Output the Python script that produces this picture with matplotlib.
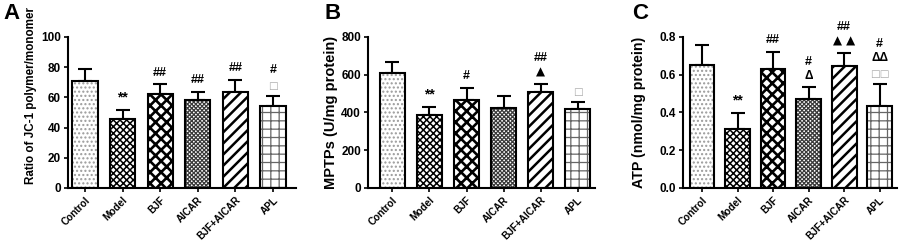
import matplotlib
matplotlib.use("Agg")
import matplotlib.pyplot as plt
import numpy as np

plt.rcParams['font.family'] = ['Liberation Sans', 'DejaVu Sans']
plt.rcParams['font.weight'] = 'bold'

groups = ["Control", "Model", "BJF", "AICAR", "BJF+AICAR", "APL"]

jc1_mean = [71, 45.5, 62, 58, 63.5, 54.5]
jc1_err = [7.5, 6.2, 6.7, 5.8, 8.3, 6.5]
jc1_marks = [[], ["**"], ["##"], ["##"], ["##"], ["\u25a1", "#"]]

mptp_mean = [611, 387, 466, 425, 509, 416]
mptp_err = [58, 42, 65, 61, 42, 38]
mptp_marks = [[], ["**"], ["#"], [], ["\u25b2", "##"], ["\u25a1"]]

atp_mean = [0.654, 0.312, 0.632, 0.474, 0.649, 0.437]
atp_err = [0.101, 0.087, 0.091, 0.060, 0.068, 0.114]
atp_marks = [[], ["**"], ["##"], ["\u0394", "#"], ["\u25b2 \u25b2", "##"], ["\u25a1\u25a1", "\u0394\u0394", "#"]]

# hatch styles per group: (hatch, hatchcolor, hatch linewidth)
styles = [("....", "#9a9a9a", 1.0),
          ("xxxxx", "black", 1.1),
          ("xxx", "black", 1.9),
          ("xxxxxxxx", "#3a3a3a", 0.9),
          ("///", "black", 1.8),
          ("++", "#666666", 0.9)]

W, H = 906, 242
fig = plt.figure(figsize=(W / 100, H / 100), dpi=100)

panels = [
    dict(letter="A", mean=jc1_mean, err=jc1_err, marks=jc1_marks,
         ylabel="Ratio of JC-1 polymer/monomer", ylim=(0, 100), yticks=[0, 20, 40, 60, 80, 100],
         fmt="{:.0f}", px=(68, 296), xlim=(-0.45, 5.61), width=0.67, lx=3,
         ylfs=8.4, ylx=-0.135, yly=0.615),
    dict(letter="B", mean=mptp_mean, err=mptp_err, marks=mptp_marks,
         ylabel="MPTPs (U/mg protein)", ylim=(0, 800), yticks=[0, 200, 400, 600, 800],
         fmt="{:.0f}", px=(368, 595), xlim=(-0.66, 5.47), width=0.68, lx=324,
         ylfs=10.5, ylx=-0.13, yly=0.5),
    dict(letter="C", mean=atp_mean, err=atp_err, marks=atp_marks,
         ylabel="ATP (nmol/mg protein)", ylim=(0, 0.8), yticks=[0, 0.2, 0.4, 0.6, 0.8],
         fmt="{:.1f}", px=(683, 897), xlim=(-0.535, 5.49), width=0.70, lx=632,
         ylfs=10.2, ylx=-0.175, yly=0.5),
]

top_px, bot_px = 37, 188
for p in panels:
    l, r = p["px"]
    ax = fig.add_axes([l / W, 1 - bot_px / H, (r - l) / W, (bot_px - top_px) / H])
    x = np.arange(len(groups))
    ymax = p["ylim"][1]
    for i in range(len(groups)):
        h, hc, hlw = styles[i]
        fill = ax.bar(x[i], p["mean"][i], width=p["width"], color="white",
                      edgecolor=hc, hatch=h, linewidth=0, zorder=2)
        for patch in fill:
            if hasattr(patch, "set_hatch_linewidth"):
                patch.set_hatch_linewidth(hlw)
    ax.bar(x, p["mean"], width=p["width"], color="none", edgecolor="black",
           linewidth=1.5, zorder=3)
    ax.errorbar(x, p["mean"], yerr=[np.zeros(len(x)), p["err"]], fmt="none",
                ecolor="black", elinewidth=1.5, capsize=5, capthick=1.5, zorder=1)
    # annotations
    for i, marks in enumerate(p["marks"]):
        yb = p["mean"][i] + p["err"][i] + ymax * 0.035
        for m in marks:
            col = "#aaaaaa" if "\u25a1" in m else "black"
            if m[0] == "\u25a1":
                fs = 7.5
            elif m[0] in "\u25b2\u0394":
                fs = 8.5
            elif m == "**":
                fs = 10
            else:
                fs = 9
            ax.text(x[i], yb, m, ha="center", va="bottom", fontsize=fs,
                    color=col, fontweight="bold",
                    family=["DejaVu Sans"] if m[0] in "\u25a1\u25b2" else None)
            yb += ymax * 0.095
    ax.set_xlim(*p["xlim"])
    ax.set_ylim(*p["ylim"])
    ax.set_yticks(p["yticks"])
    ax.set_yticklabels([p["fmt"].format(v) for v in p["yticks"]], fontsize=8.5, fontweight="bold")
    ax.set_xticks(x)
    ax.set_xticklabels(groups, rotation=45, ha="right", rotation_mode="anchor",
                       fontsize=7.2, fontweight="bold")
    ax.tick_params(axis="both", direction="out", length=3, width=1.2, pad=2)
    for s in ["top", "right"]:
        ax.spines[s].set_visible(False)
    for s in ["left", "bottom"]:
        ax.spines[s].set_linewidth(1.5)
    ax.set_ylabel(p["ylabel"], fontsize=p["ylfs"], fontweight="bold")
    ax.yaxis.set_label_coords(p["ylx"], p["yly"])
    fig.text(p["lx"] / W, 1 - 3 / H, p["letter"],
             fontsize=16, fontweight="bold", ha="left", va="top")

fig.savefig("out.png", dpi=100)
